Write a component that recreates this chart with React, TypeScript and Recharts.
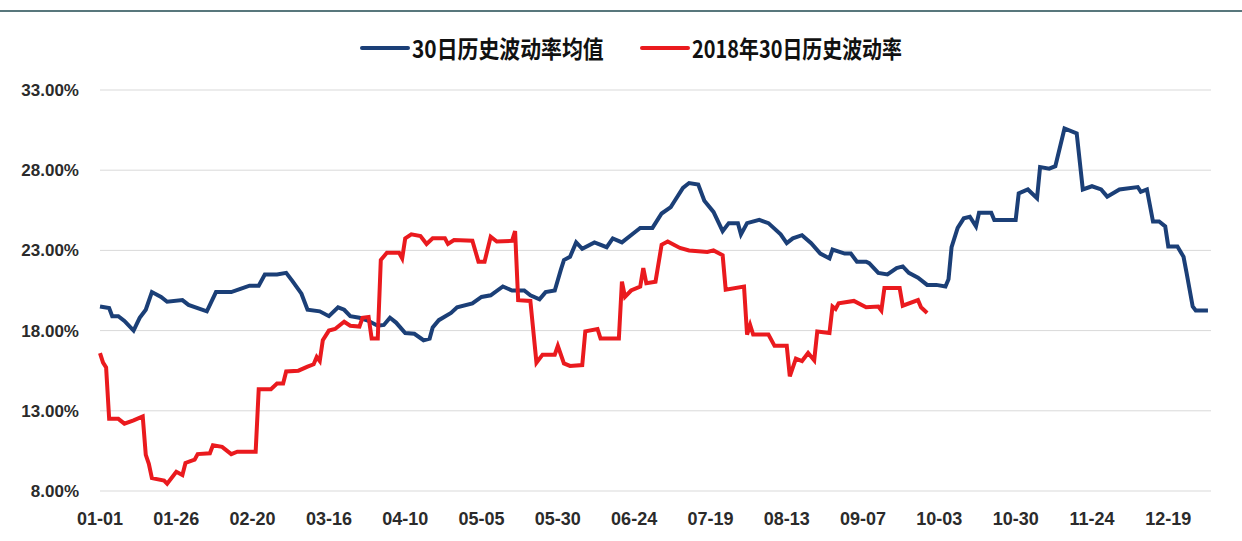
import React from 'react';
import { LineChart, Line, XAxis, YAxis, CartesianGrid } from 'recharts';

// x positions are day indexes on the date axis (one per category)
const tickDays = [0, 25, 50, 75, 100, 125, 150, 175, 200, 225, 250, 275, 300, 325, 350];
const tickLabels = ['01-01', '01-26', '02-20', '03-16', '04-10', '05-05', '05-30', '06-24',
  '07-19', '08-13', '09-07', '10-03', '10-30', '11-24', '12-19'];
const yTicks = [8, 13, 18, 23, 28, 33];

// 30日历史波动率均值
const avgDays = [0, 3, 4, 6, 8, 11, 13, 15, 17, 20, 22, 27, 29, 35, 38, 43, 46, 49, 52, 54, 58, 61, 63, 66,
  68, 72, 75, 78, 80, 82, 85, 88, 91, 93, 95, 97, 100, 103, 106, 108, 109, 111, 115, 117, 122, 125, 128,
  132, 135, 139, 141, 144, 146, 149, 151, 152, 154, 156, 158, 162, 166, 168, 171, 175, 177, 181, 184, 187,
  188, 191, 193, 196, 198, 201, 204, 206, 209, 210, 212, 216, 219, 223, 225, 227, 230, 233, 236, 239, 240,
  244, 246, 248, 251, 252, 255, 258, 261, 263, 265, 268, 271, 274, 277, 278, 279, 281, 283, 285, 287, 288,
  292, 293, 297, 300, 301, 304, 307, 308, 311, 313, 316, 320, 322, 325, 328, 330, 334, 340, 341, 343, 345,
  347, 349, 350, 353, 355, 356, 358, 359, 363];
const avgValues = [19.5, 19.4, 18.9, 18.9, 18.6, 18.0, 18.8, 19.3, 20.4, 20.1, 19.8, 19.9, 19.6, 19.2, 20.4,
  20.4, 20.6, 20.8, 20.8, 21.5, 21.5, 21.6, 21.1, 20.3, 19.3, 19.2, 18.9, 19.45, 19.3, 18.9, 18.8, 18.6,
  18.3, 18.35, 18.8, 18.5, 17.85, 17.8, 17.4, 17.5, 18.2, 18.65, 19.1, 19.45, 19.7, 20.1, 20.2, 20.75, 20.5,
  20.5, 20.2, 19.95, 20.4, 20.5, 21.8, 22.4, 22.6, 23.5, 23.1, 23.5, 23.2, 23.75, 23.5, 24.1, 24.4, 24.4,
  25.3, 25.7, 26.0, 26.9, 27.2, 27.1, 26.1, 25.4, 24.2, 24.7, 24.7, 24.0, 24.7, 24.9, 24.7, 24.0, 23.45,
  23.75, 23.95, 23.45, 22.8, 22.5, 23.05, 22.8, 22.8, 22.3, 22.3, 22.2, 21.6, 21.5, 21.9, 22.0, 21.6, 21.3,
  20.85, 20.85, 20.75, 21.2, 23.2, 24.4, 25.0, 25.1, 24.5, 25.35, 25.35, 24.9, 24.9, 24.9, 26.55, 26.8,
  26.25, 28.2, 28.1, 28.25, 30.6, 30.3, 26.8, 27.0, 26.8, 26.35, 26.8, 26.95, 26.65, 26.8, 24.8, 24.8, 24.5,
  23.25, 23.25, 22.6, 21.6, 19.5, 19.25, 19.25];

// 2018年30日历史波动率
const y2018Days = [0, 1, 2, 3, 6, 8, 11, 14, 15, 16, 17, 21, 22, 25, 27, 28, 31, 32, 36, 37, 40, 43, 45, 51,
  52, 56, 58, 60, 61, 65, 68, 70, 71, 72, 73, 75, 77, 80, 82, 85, 86, 88, 89, 91, 92, 94, 98, 99, 100, 102,
  105, 107, 109, 113, 114, 116, 122, 124, 126, 128, 130, 135, 136, 137, 141, 143, 145, 149, 150, 152, 154,
  158, 159, 163, 164, 170, 171, 172, 174, 177, 178, 179, 182, 184, 186, 190, 193, 199, 201, 204, 205, 211,
  212, 213, 214, 219, 221, 225, 226, 228, 230, 232, 234, 235, 239, 240, 241, 242, 247, 251, 255, 256, 257,
  262, 263, 268, 269, 271];
const y2018Values = [16.6, 16.0, 15.7, 12.5, 12.5, 12.2, 12.4, 12.65, 10.25, 9.7, 8.8, 8.65, 8.45, 9.2, 9.0,
  9.75, 9.95, 10.3, 10.35, 10.85, 10.75, 10.3, 10.45, 10.45, 14.35, 14.35, 14.7, 14.7, 15.45, 15.5, 15.75,
  15.9, 16.35, 16.1, 17.4, 18.0, 18.1, 18.55, 18.3, 18.25, 18.8, 18.85, 17.5, 17.5, 22.4, 22.85, 22.85, 22.5,
  23.75, 24.0, 23.9, 23.4, 23.75, 23.75, 23.4, 23.65, 23.6, 22.3, 22.3, 23.85, 23.55, 23.6, 24.2, 19.9,
  19.85, 16.0, 16.5, 16.5, 17.05, 15.95, 15.8, 15.85, 17.95, 18.1, 17.5, 17.5, 21.05, 20.1, 20.5, 20.75,
  21.9, 20.95, 21.05, 23.35, 23.55, 23.15, 23.0, 22.9, 23.0, 22.7, 20.55, 20.75, 17.75, 18.35, 17.75, 17.75,
  17.05, 17.05, 15.15, 16.25, 16.1, 16.6, 16.15, 17.95, 17.85, 19.5, 19.35, 19.7, 19.85, 19.45, 19.5, 19.25,
  20.65, 20.65, 19.55, 19.9, 19.45, 19.1];

const avgData = avgDays.map((d, i) => ({ day: d, value: avgValues[i] }));
const y2018Data = y2018Days.map((d, i) => ({ day: d, value: y2018Values[i] }));

const BLUE = '#1b3f77';
const RED = '#ea1a1e';
const tickFont = { fontFamily: '"Liberation Sans", Arial, sans-serif', fontWeight: 700, fill: '#2b2b2b' };

// legend entry: short thick line followed by narrow, tall text
const LegendItem = ({ left, color, label, squeeze }: { left: number; color: string; label: string; squeeze: number }) => (
  <div style={{ position: 'absolute', left, top: 31, height: 34, display: 'flex', alignItems: 'center' }}>
    <div style={{ width: 50, height: 4, background: color, borderRadius: 2 }} />
    <span
      style={{
        display: 'inline-block', marginLeft: 2, transform: `scaleX(${squeeze})`, transformOrigin: 'left center',
        whiteSpace: 'nowrap', fontFamily: '"Noto Sans CJK SC", sans-serif', fontWeight: 700, fontSize: 24,
        color: '#111', lineHeight: '34px',
      }}
    >
      {label}
    </span>
  </div>
);

export default function App() {
  return (
    <div style={{ position: 'absolute', left: 0, top: 0, width: 1242, height: 541, background: '#fff' }}>
      <div style={{ position: 'absolute', left: 0, top: 10, width: 1242, height: 2, background: '#58777c' }} />
      <LegendItem left={360} color={BLUE} label="30日历史波动率均值" squeeze={0.87} />
      <LegendItem left={640} color={RED} label="2018年30日历史波动率" squeeze={0.83} />
      <LineChart width={1242} height={541} margin={{ top: 90, right: 31, bottom: 20, left: 10 }}>
        <CartesianGrid vertical={false} stroke="#d9d9d9" />
        <XAxis
          type="number"
          dataKey="day"
          domain={[0, 364]}
          ticks={tickDays}
          tickFormatter={(v: number) => tickLabels[tickDays.indexOf(v)]}
          axisLine={false}
          tickLine={false}
          tickMargin={15}
          height={30}
          interval={0}
          tick={{ ...tickFont, fontSize: 18 }}
        />
        <YAxis
          domain={[8, 33]}
          ticks={yTicks}
          tickFormatter={(v: number) => v.toFixed(2) + '%'}
          axisLine={false}
          tickLine={false}
          tickMargin={15}
          width={90}
          interval={0}
          tick={{ ...tickFont, fontSize: 17 }}
        />
        <Line data={avgData} dataKey="value" stroke={BLUE} strokeWidth={4} dot={false}
          type="linear" isAnimationActive={false} />
        <Line data={y2018Data} dataKey="value" stroke={RED} strokeWidth={4} dot={false}
          type="linear" isAnimationActive={false} />
      </LineChart>
    </div>
  );
}
